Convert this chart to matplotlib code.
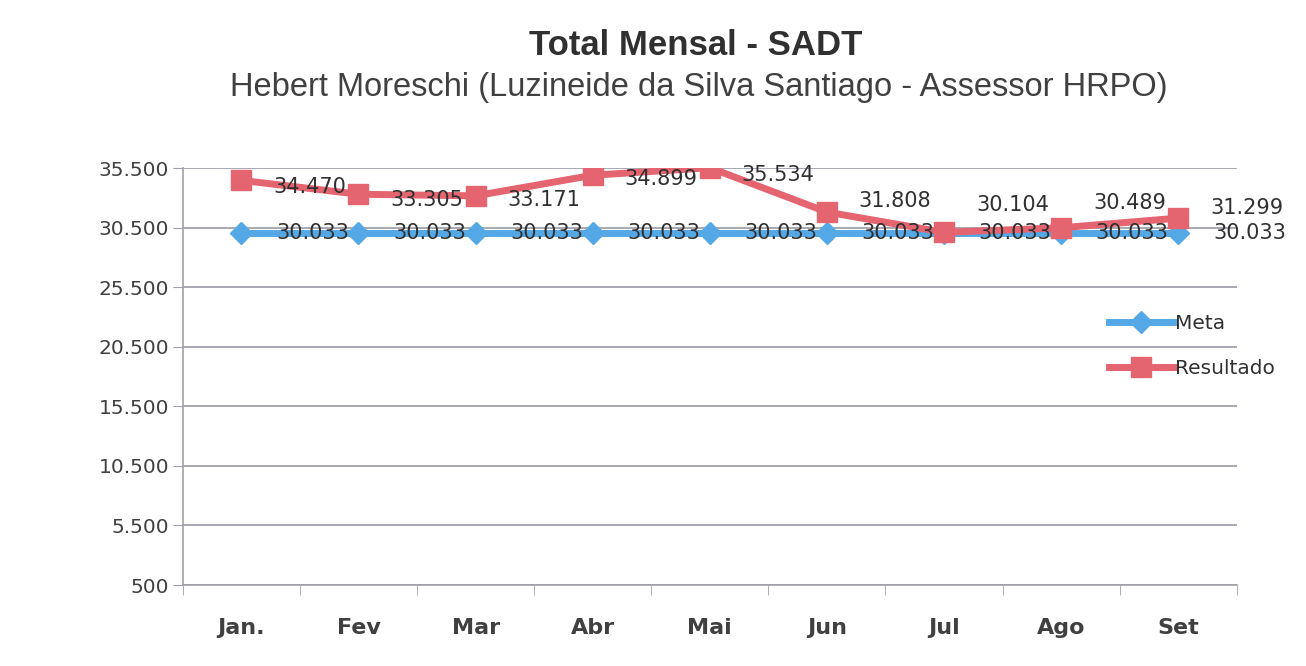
import matplotlib

matplotlib.use("Agg")
import matplotlib.pyplot as plt
from matplotlib.ticker import FuncFormatter

meses = ["Jan.", "Fev", "Mar", "Abr", "Mai", "Jun", "Jul", "Ago", "Set"]
meta = [30033, 30033, 30033, 30033, 30033, 30033, 30033, 30033, 30033]
resultado = [34470, 33305, 33171, 34899, 35534, 31808, 30104, 30489, 31299]
y_ticks = [500, 5500, 10500, 15500, 20500, 25500, 30500, 35500]

# label nudges (points) for the Resultado data labels
res_dy = [-5, -4, -3, -3, -5, 8, 20, 18, 7]

BLUE = "#55a8e6"
RED = "#e4646f"


def br(v, _pos=None):
    return f"{v:,.0f}".replace(",", ".")


fig = plt.figure(figsize=(13.06, 6.66), dpi=100)
ax = fig.add_axes([0.140, 0.1216, 0.807, 0.626])

x = list(range(len(meses)))
ax.plot(x, meta, color=BLUE, lw=5, marker="D", ms=11, label="Meta", zorder=3)
ax.plot(x, resultado, color=RED, lw=5, marker="s", ms=15, label="Resultado", zorder=4)

for i, v in enumerate(meta):
    ax.annotate(br(v), (i, v), xytext=(25, 0), textcoords="offset points",
                ha="left", va="center", fontsize=15, color="#303030", zorder=5)
for i, v in enumerate(resultado):
    ax.annotate(br(v), (i, v), xytext=(23, res_dy[i]), textcoords="offset points",
                ha="left", va="center", fontsize=15, color="#303030", zorder=5)

ax.set_xlim(-0.5, len(meses) - 0.5)
ax.set_ylim(500, 35500)
ax.set_yticks(y_ticks)
ax.yaxis.set_major_formatter(FuncFormatter(br))
ax.set_xticks(x)
ax.set_xticklabels(meses, fontsize=16, fontweight="bold", color="#404040")
ax.set_xticks([i - 0.5 for i in range(len(meses) + 1)], minor=True)
ax.tick_params(axis="x", which="major", length=0, pad=24)
ax.tick_params(axis="x", which="minor", length=7, color="#a0a0a8")
ax.tick_params(axis="y", labelsize=14.5, labelcolor="#404040", length=7,
               color="#a0a0a8", pad=3)
ax.grid(axis="y", color="#9a9aa6", lw=1.2)
for side in ["top", "right"]:
    ax.spines[side].set_visible(False)
for side in ["left", "bottom"]:
    ax.spines[side].set_color("#a0a0a8")
    ax.spines[side].set_linewidth(1.2)

fig.text(0.533, 0.932, "Total Mensal - SADT", ha="center", va="center",
         fontsize=25, fontweight="bold", family="Liberation Sans", color="#303030")
fig.text(0.535, 0.868, "Hebert Moreschi (Luzineide da Silva Santiago - Assessor HRPO)",
         ha="center", va="center", fontsize=23.5, family="Liberation Sans", color="#404040")

fig.legend(loc="center left", bbox_to_anchor=(0.835, 0.48), frameon=False,
           fontsize=14.5, handlelength=3.2, handletextpad=0.1, labelspacing=1.3,
           labelcolor="#303030")

fig.savefig("out.png", dpi=100, facecolor="white")
